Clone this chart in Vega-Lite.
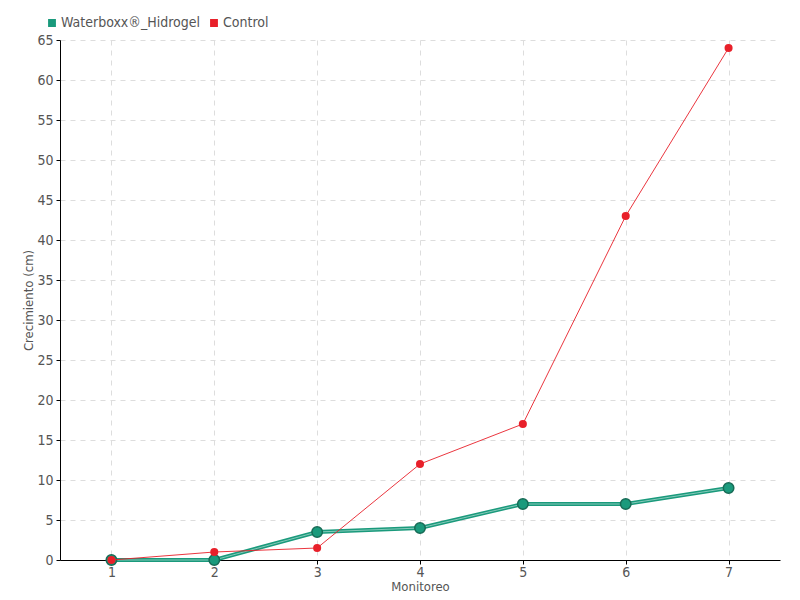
{
  "$schema": "https://vega.github.io/schema/vega-lite/v6.json",
  "width": 720,
  "height": 520,
  "autosize": {"type": "none"},
  "padding": {"left": 60, "top": 40, "right": 20, "bottom": 40},
  "background": "white",
  "config": {
    "font": "DejaVu Sans Condensed, Liberation Sans Narrow, sans-serif",
    "view": {"stroke": null},
    "axis": {
      "labelColor": "#555555",
      "titleColor": "#555555",
      "labelFontSize": 14,
      "titleFontSize": 13,
      "titleFontWeight": "normal",
      "domainColor": "#000000",
      "tickColor": "#000000",
      "tickSize": 4,
      "gridColor": "#dddddd",
      "gridDash": [5, 5]
    }
  },
  "data": {
    "values": [
      {"m": "1", "serie": "Waterboxx®_Hidrogel", "v": 0},
      {"m": "2", "serie": "Waterboxx®_Hidrogel", "v": 0},
      {"m": "3", "serie": "Waterboxx®_Hidrogel", "v": 3.5},
      {"m": "4", "serie": "Waterboxx®_Hidrogel", "v": 4},
      {"m": "5", "serie": "Waterboxx®_Hidrogel", "v": 7},
      {"m": "6", "serie": "Waterboxx®_Hidrogel", "v": 7},
      {"m": "7", "serie": "Waterboxx®_Hidrogel", "v": 9},
      {"m": "1", "serie": "Control", "v": 0},
      {"m": "2", "serie": "Control", "v": 1},
      {"m": "3", "serie": "Control", "v": 1.5},
      {"m": "4", "serie": "Control", "v": 12},
      {"m": "5", "serie": "Control", "v": 17},
      {"m": "6", "serie": "Control", "v": 43},
      {"m": "7", "serie": "Control", "v": 64}
    ]
  },
  "encoding": {
    "x": {
      "field": "m", "type": "ordinal", "title": "Monitoreo",
      "scale": {"type": "point", "padding": 0.5},
      "axis": {"labelAngle": 0, "grid": true, "titlePadding": 1, "labelPadding": 1}
    },
    "y": {
      "field": "v", "type": "quantitative", "title": "Crecimiento (cm)",
      "scale": {"domain": [0, 65], "nice": false},
      "axis": {"values": [0,5,10,15,20,25,30,35,40,45,50,55,60,65], "titlePadding": 1, "labelPadding": 3}
    }
  },
  "layer": [
    {
      "transform": [{"filter": "datum.serie === 'Waterboxx®_Hidrogel'"}],
      "mark": {"type": "line", "strokeWidth": 4},
      "encoding": {
        "color": {
          "field": "serie", "type": "nominal",
          "scale": {"domain": ["Waterboxx®_Hidrogel", "Control"], "range": ["#1a9a7c", "#e8202a"]},
          "legend": {
            "title": null, "orient": "none", "direction": "horizontal",
            "legendX": -15, "legendY": -24, "symbolType": "square", "symbolSize": 40,
            "labelFontSize": 14, "labelColor": "#555555", "columnPadding": 6, "symbolOffset": 0, "labelOffset": 2
          }
        }
      }
    },
    {
      "transform": [{"filter": "datum.serie === 'Waterboxx®_Hidrogel'"}],
      "mark": {"type": "line", "strokeWidth": 0.8, "color": "#ffffff", "opacity": 0.6},
      "encoding": {}
    },
    {
      "transform": [{"filter": "datum.serie === 'Waterboxx®_Hidrogel'"}],
      "mark": {"type": "point", "filled": true, "size": 110, "opacity": 1, "stroke": "#176b56", "strokeWidth": 1.5},
      "encoding": {
        "color": {"field": "serie", "type": "nominal"}
      }
    },
    {
      "transform": [{"filter": "datum.serie === 'Control'"}],
      "mark": {"type": "line", "strokeWidth": 1, "opacity": 0.9},
      "encoding": {
        "color": {"field": "serie", "type": "nominal"}
      }
    },
    {
      "transform": [{"filter": "datum.serie === 'Control'"}],
      "mark": {"type": "point", "filled": true, "size": 65, "opacity": 1},
      "encoding": {
        "color": {"field": "serie", "type": "nominal"}
      }
    }
  ]
}
